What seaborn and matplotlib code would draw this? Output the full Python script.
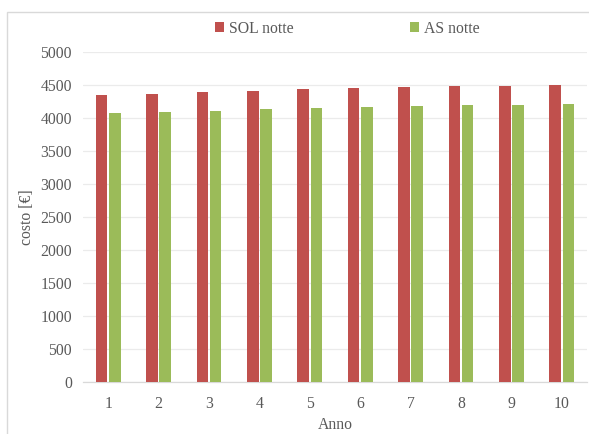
import matplotlib
matplotlib.use("Agg")
import matplotlib.pyplot as plt
import seaborn as sns
import pandas as pd
from matplotlib.patches import Rectangle

# Annual cost, night operation
anni = [1, 2, 3, 4, 5, 6, 7, 8, 9, 10]
sol_notte = [4345, 4365, 4390, 4405, 4435, 4450, 4465, 4480, 4490, 4495]
as_notte = [4070, 4085, 4110, 4130, 4145, 4165, 4180, 4190, 4200, 4210]
serie = ["SOL notte", "AS notte"]
y_ticks = [0, 500, 1000, 1500, 2000, 2500, 3000, 3500, 4000, 4500, 5000]

df = pd.DataFrame({
    "Anno": [str(a) for a in anni] * 2,
    "costo": sol_notte + as_notte,
    "serie": [serie[0]] * len(anni) + [serie[1]] * len(anni),
})

sns.set_theme(style="white")
plt.rcParams["font.family"] = ["Liberation Serif", "DejaVu Serif"]

fig = plt.figure(figsize=(5.89, 4.34), dpi=100)
ax = fig.add_axes([83 / 589, 1 - 382 / 434, (587 - 83) / 589, (382 - 52) / 434])

palette = {"SOL notte": "#C0504D", "AS notte": "#9BBB59"}
sns.barplot(data=df, x="Anno", y="costo", hue="serie", hue_order=serie,
            palette=palette, width=0.52, gap=0.12, saturation=1,
            edgecolor="none", ax=ax, legend=True, zorder=3)

ax.set_ylim(0, 5000)
ax.set_yticks(y_ticks)
ax.set_yticklabels([str(t) for t in y_ticks])
ax.yaxis.grid(True, color="#EBEBEB", linewidth=0.9, zorder=0)
ax.set_axisbelow(True)
for s in ["top", "right", "left"]:
    ax.spines[s].set_visible(False)
ax.spines["bottom"].set_color("#D9D9D9")
ax.spines["bottom"].set_linewidth(0.9)
ax.tick_params(axis="both", length=0, labelsize=11.3, colors="#595959", pad=8)
ax.tick_params(axis="x", pad=10)
ax.set_xlabel("Anno", fontsize=11.3, color="#595959", labelpad=4)
ax.set_ylabel("costo [€]", fontsize=11.3, color="#595959", labelpad=4)

handles, labels = ax.get_legend_handles_labels()
ax.legend(handles, labels, loc="center", bbox_to_anchor=(0.524, 1.07),
          ncol=2, frameon=False, fontsize=11.3, labelcolor="#595959",
          handlelength=0.6, handleheight=0.6, handletextpad=0.3,
          columnspacing=7.4)

# chart area border
fig.patches.append(Rectangle((7 / 589, -0.05), 1.1, 1 - 12 / 434 + 0.05,
                             transform=fig.transFigure, fill=False,
                             edgecolor="#D9D9D9", linewidth=1.0))

fig.savefig("out.png", dpi=100)
